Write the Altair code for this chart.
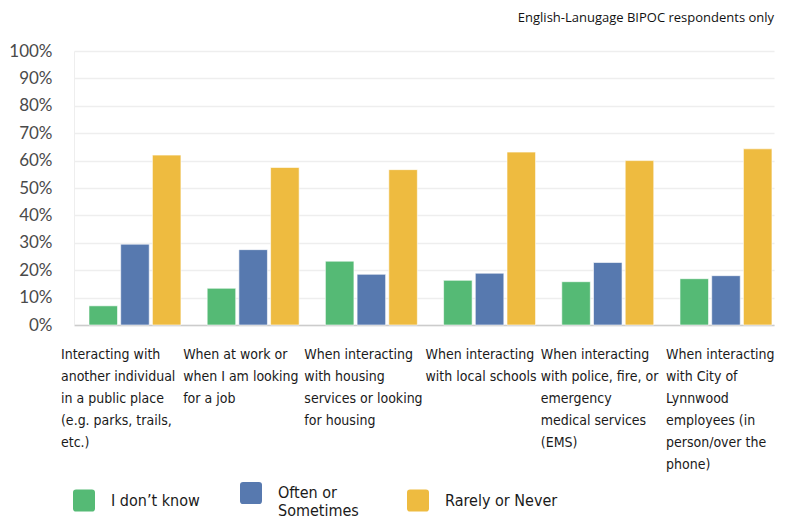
import altair as alt
import pandas as pd

categories = [
    "Interacting with\nanother individual\nin a public place\n(e.g. parks, trails,\netc.)",
    "When at work or\nwhen I am looking\nfor a job",
    "When interacting\nwith housing\nservices or looking\nfor housing",
    "When interacting\nwith local schools",
    "When interacting\nwith police, fire, or\nemergency\nmedical services\n(EMS)",
    "When interacting\nwith City of\nLynnwood\nemployees (in\nperson/over the\nphone)",
]
series_names = ["I don’t know", "Often or\nSometimes", "Rarely or Never"]
dont_know = [7.0, 13.4, 23.3, 16.3, 15.8, 16.9]
often = [29.5, 27.5, 18.5, 18.9, 22.8, 18.0]
rarely = [62.0, 57.5, 56.7, 63.1, 60.0, 64.3]
colors = ["#55BA75", "#5779AF", "#EEBB40"]
y_ticks = [0, 10, 20, 30, 40, 50, 60, 70, 80, 90, 100]

rows = []
for s, vals in zip(series_names, [dont_know, often, rarely]):
    for c, v in zip(categories, vals):
        rows.append({"category": c, "series": s, "value": v})
df = pd.DataFrame(rows)

cond_font = "DejaVu Sans Condensed, sans-serif"
rounded_sq = ("M-0.72,-1 H0.72 Q1,-1 1,-0.72 V0.72 Q1,1 0.72,1 H-0.72 "
              "Q-1,1 -1,0.72 V-0.72 Q-1,-1 -0.72,-1 Z")

label_offsets = {
    "condition": [
        {"test": "datum.index < 0.1", "value": -74},
        {"test": "datum.index < 0.3", "value": -70},
        {"test": "datum.index < 0.5", "value": -67},
        {"test": "datum.index < 0.7", "value": -64},
        {"test": "datum.index < 0.9", "value": -67},
    ],
    "value": -60,
}

chart = alt.Chart(df).mark_bar(stroke="white", strokeWidth=0.6).encode(
    x=alt.X("category:N", sort=categories,
            scale=alt.Scale(paddingInner=0.222, paddingOuter=0.072, align=0.88),
            axis=alt.Axis(title=None, labelAngle=0, labelAlign="left",
                          labelBaseline="top", labelOffset=label_offsets,
                          labelPadding=22, labelLineHeight=22,
                          labelExpr="split(datum.label, '\\n')",
                          labelFont=cond_font, labelFontSize=14,
                          labelColor="#1a1a1a", ticks=False,
                          domainColor="#cccccc", domainWidth=1.5,
                          labelLimit=200)),
    xOffset=alt.XOffset("series:N", sort=series_names,
                        scale=alt.Scale(paddingInner=0.1)),
    y=alt.Y("value:Q",
            scale=alt.Scale(domain=[0, 100]),
            axis=alt.Axis(title=None, values=y_ticks,
                          labelExpr="datum.value + '%'",
                          labelFont="Lato", labelFontSize=17,
                          labelColor="#4a4a4a", labelPadding=22,
                          ticks=False, domain=True, domainColor="#eeeeee",
                          gridColor="#eeeeee", gridWidth=1.5)),
    color=alt.Color("series:N", sort=series_names,
                    scale=alt.Scale(domain=series_names, range=colors),
                    legend=alt.Legend(title=None, orient="none",
                                      legendX=-1, legendY=431,
                                      direction="horizontal", columns=3,
                                      symbolType=rounded_sq, symbolSize=484,
                                      symbolStrokeWidth=0, symbolOpacity=1,
                                      symbolOffset=0, labelOffset=16,
                                      labelFont=cond_font, labelFontSize=16,
                                      labelColor="#1a1a1a",
                                      labelExpr="split(datum.label, '\\n')",
                                      gridAlign="all", columnPadding=16,
                                      labelLimit=200)),
).properties(
    width=700, height=274,
    padding={"left": 0, "top": 4, "right": 0, "bottom": 0},
    title=alt.TitleParams("English-Lanugage BIPOC respondents only",
                          anchor="end", fontSize=13, fontWeight="normal",
                          font="Open Sans", color="#111111", offset=17),
).configure_view(stroke=None)

chart.save("out.html", embed_options={"renderer": "svg", "actions": False})
